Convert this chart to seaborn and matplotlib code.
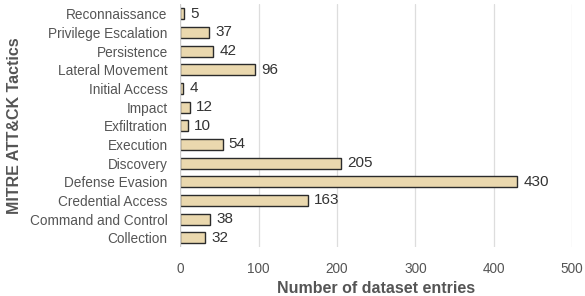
import matplotlib.pyplot as plt
import seaborn as sns
import pandas as pd

tactics = ["Reconnaissance", "Privilege Escalation", "Persistence", "Lateral Movement",
           "Initial Access", "Impact", "Exfiltration", "Execution", "Discovery",
           "Defense Evasion", "Credential Access", "Command and Control", "Collection"]
counts = [5, 37, 42, 96, 4, 12, 10, 54, 205, 430, 163, 38, 32]

df = pd.DataFrame({"tactic": tactics, "count": counts})

sns.set_theme(style="whitegrid")
plt.rcParams['font.family'] = ['Liberation Sans', 'DejaVu Sans']

fig, ax = plt.subplots(figsize=(5.85, 2.96), dpi=100)
sns.barplot(data=df, x="count", y="tactic", ax=ax, color="#ead8ae",
            edgecolor="#2b2b2b", linewidth=1.0, width=0.58, saturation=1)

for p, v in zip(ax.patches, counts):
    ax.text(p.get_width() + 8, p.get_y() + p.get_height() / 2, str(v),
            va="center", ha="left", fontsize=11, color="#333333")

ax.set_xlim(0, 500)
ax.set_xticks(range(0, 501, 100))
ax.grid(axis="x", color="#dddddd", linewidth=0.9)
ax.grid(axis="y", visible=False)
for s in ax.spines.values():
    s.set_visible(False)
ax.axvline(0, color="#cccccc", linewidth=0.9)
ax.tick_params(axis="both", labelsize=9.8, colors="#555555", length=0)
ax.tick_params(axis="y", pad=9)
ax.tick_params(axis="x", pad=11)
ax.set_xlabel("Number of dataset entries", fontsize=11.5, fontweight="bold",
              color="#555555", labelpad=3)
ax.set_ylabel("MITRE ATT&CK Tactics", fontsize=11.5, fontweight="bold",
              color="#555555", labelpad=6)

plt.subplots_adjust(left=0.308, right=0.978, top=0.985, bottom=0.165)
plt.savefig("out.png", dpi=100)
